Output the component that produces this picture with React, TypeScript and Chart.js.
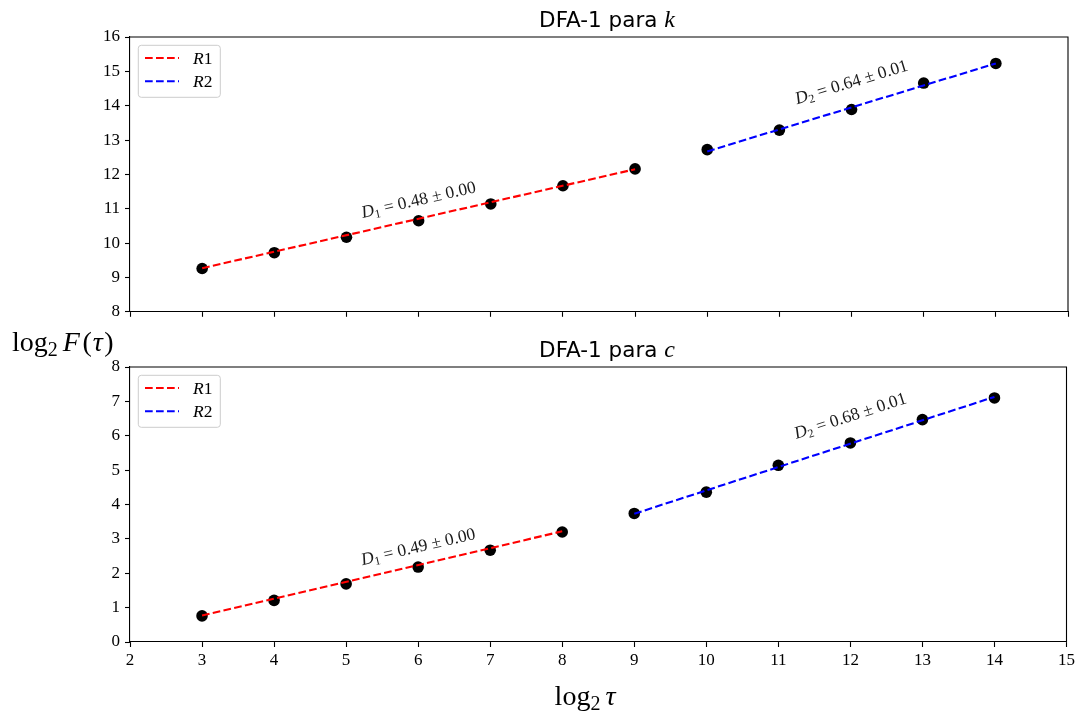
import React, { useEffect, useRef } from 'react';
import { Chart, registerables } from 'chart.js';

Chart.register(...registerables);

// ---------- data ----------
const tauValues = [3, 4, 5, 6, 7, 8, 9, 10, 11, 12, 13, 14];
const kValues = [9.26, 9.72, 10.17, 10.65, 11.14, 11.67, 12.16, 12.72, 13.29, 13.89, 14.66, 15.23];
const cValues = [0.76, 1.21, 1.69, 2.18, 2.67, 3.2, 3.74, 4.36, 5.14, 5.79, 6.47, 7.1];

const kFitR1X = [3, 9];
const kFitR1Y = [9.27, 12.15];
const kFitR2X = [10, 14];
const kFitR2Y = [12.67, 15.23];

const cFitR1X = [3, 8];
const cFitR1Y = [0.77, 3.22];
const cFitR2X = [9, 14];
const cFitR2Y = [3.73, 7.13];

const xTickValues = [2, 3, 4, 5, 6, 7, 8, 9, 10, 11, 12, 13, 14, 15];
const kYRange = [8, 16];
const cYRange = [0, 8];
const xRange = [2, 15];

const legendLabels = ['R', 'R'];
const legendSubs = ['1', '2'];

const kSlopeTexts = [' = 0.48 \u00b1 0.00', ' = 0.64 \u00b1 0.01'];
const cSlopeTexts = [' = 0.49 \u00b1 0.00', ' = 0.68 \u00b1 0.01'];
const kSlopeAnchorX = [6, 12];
const kSlopeAnchorY = [11.25, 14.68];
const cSlopeAnchorX = [6, 12];
const cSlopeAnchorY = [2.76, 6.57];

const panelVars = ['k', 'c'];

// ---------- helpers ----------
const SERIF = '"Liberation Serif", "DejaVu Serif", serif';
const SANS = '"DejaVu Sans", "Noto Sans", sans-serif';

type Run = { t: string; font: string; dy?: number; gap?: number };

function drawRuns(ctx: CanvasRenderingContext2D, runs: Run[], x: number, y: number, align: 'left' | 'center') {
  const widths = runs.map((r) => {
    if (r.gap !== undefined) return r.gap;
    ctx.font = r.font;
    return ctx.measureText(r.t).width;
  });
  const total = widths.reduce((a, b) => a + b, 0);
  let cx = align === 'center' ? x - total / 2 : x;
  ctx.textAlign = 'left';
  ctx.textBaseline = 'alphabetic';
  runs.forEach((r, i) => {
    if (r.gap === undefined) {
      ctx.font = r.font;
      ctx.fillText(r.t, cx, y + (r.dy || 0));
    }
    cx += widths[i];
  });
}

type PanelSpec = {
  values: number[];
  r1x: number[];
  r1y: number[];
  r2x: number[];
  r2y: number[];
  yRange: number[];
  slopeTexts: string[];
  anchorX: number[];
  anchorY: number[];
  variable: string;
  showXLabels: boolean;
  padTop: number;
  xAxisHeight: number;
  bottomPanel: boolean;
};

function makeChart(canvas: HTMLCanvasElement, p: PanelSpec) {
  const pts = (xs: number[], ys: number[]) => xs.map((x, i) => ({ x, y: ys[i] }));

  const decor = {
    id: 'decor',
    afterDraw(chart: any) {
      const ctx: CanvasRenderingContext2D = chart.ctx;
      const area = chart.chartArea;
      const xs = chart.scales.x;
      const ys = chart.scales.y;
      ctx.save();

      // top and right spines
      ctx.strokeStyle = '#000';
      ctx.lineWidth = 1.1;
      ctx.setLineDash([]);
      ctx.beginPath();
      ctx.moveTo(area.left, area.top);
      ctx.lineTo(area.right, area.top);
      ctx.lineTo(area.right, area.bottom);
      ctx.stroke();

      // title
      ctx.fillStyle = '#000';
      drawRuns(
        ctx,
        [
          { t: 'DFA-1 para ', font: `21.5px ${SANS}` },
          { t: p.variable, font: `italic 24px ${SERIF}` },
        ],
        607,
        area.top - 10.5,
        'center'
      );

      // slope annotations
      const fits = [
        [p.r1x, p.r1y],
        [p.r2x, p.r2y],
      ];
      p.slopeTexts.forEach((txt, i) => {
        const [fx, fy] = fits[i];
        const x0 = xs.getPixelForValue(fx[0]);
        const y0 = ys.getPixelForValue(fy[0]);
        const x1 = xs.getPixelForValue(fx[1]);
        const y1 = ys.getPixelForValue(fy[1]);
        const ang = Math.atan2(y0 - y1, x1 - x0);
        const px = xs.getPixelForValue(p.anchorX[i]);
        const py = ys.getPixelForValue(p.anchorY[i]);
        ctx.save();
        ctx.translate(px, py);
        ctx.rotate(-ang);
        ctx.fillStyle = '#1a1a1a';
        drawRuns(
          ctx,
          [
            { t: 'D', font: `italic 17.5px ${SERIF}` },
            { t: String(i + 1), font: `12px ${SERIF}`, dy: 3 },
            { t: txt, font: `17.5px ${SERIF}` },
          ],
          0,
          5,
          'center'
        );
        ctx.restore();
      });

      // legend
      const lx = area.left + 8.3;
      const ly = area.top + 8.3;
      ctx.beginPath();
      (ctx as any).roundRect(lx, ly, 82, 52, 3);
      ctx.fillStyle = 'rgba(255,255,255,0.8)';
      ctx.fill();
      ctx.strokeStyle = '#cccccc';
      ctx.lineWidth = 1;
      ctx.stroke();
      const colors = ['#ff0000', '#0000ff'];
      const rowY = [area.top + 21, area.top + 44.3];
      legendLabels.forEach((lab, i) => {
        ctx.strokeStyle = colors[i];
        ctx.lineWidth = 2.1;
        ctx.setLineDash([7.7, 3.3]);
        ctx.beginPath();
        ctx.moveTo(area.left + 15, rowY[i]);
        ctx.lineTo(area.left + 49, rowY[i]);
        ctx.stroke();
        ctx.setLineDash([]);
        ctx.fillStyle = '#000';
        drawRuns(
          ctx,
          [
            { t: lab, font: `italic 17.5px ${SERIF}` },
            { t: legendSubs[i], font: `17.5px ${SERIF}` },
          ],
          area.left + 63,
          rowY[i] + 6,
          'left'
        );
      });

      if (p.bottomPanel) {
        ctx.fillStyle = '#000';
        // y-axis label (shared)
        drawRuns(
          ctx,
          [
            { t: 'log', font: `28px ${SERIF}` },
            { t: '2', font: `20px ${SERIF}`, dy: 5 },
            { t: '', font: '', gap: 5 },
            { t: 'F', font: `italic 28px ${SERIF}` },
            { t: '', font: '', gap: 2.5 },
            { t: '(', font: `28px ${SERIF}` },
            { t: '', font: '', gap: 1 },
            { t: '\u03c4', font: `italic 28px ${SERIF}` },
            { t: '', font: '', gap: 1.5 },
            { t: ')', font: `28px ${SERIF}` },
          ],
          12,
          26,
          'left'
        );
        // x-axis label
        drawRuns(
          ctx,
          [
            { t: 'log', font: `28px ${SERIF}` },
            { t: '2', font: `20px ${SERIF}`, dy: 5 },
            { t: '', font: '', gap: 5 },
            { t: '\u03c4', font: `italic 28px ${SERIF}` },
          ],
          585,
          chart.height - 12,
          'center'
        );
      }
      ctx.restore();
    },
  };

  const tickFont = { family: SERIF, size: 17 };
  const gridOpts = {
    display: true,
    drawOnChartArea: false,
    drawTicks: true,
    tickLength: 5,
    tickWidth: 1.1,
    tickColor: '#000',
    color: '#000',
  };

  return new Chart(canvas, {
    type: 'scatter',
    data: {
      datasets: [
        {
          label: 'R1',
          data: pts(p.r1x, p.r1y),
          showLine: true,
          borderColor: '#ff0000',
          borderWidth: 2.1,
          borderDash: [7.7, 3.3],
          pointRadius: 0,
          fill: false,
        },
        {
          label: 'R2',
          data: pts(p.r2x, p.r2y),
          showLine: true,
          borderColor: '#0000ff',
          borderWidth: 2.1,
          borderDash: [7.7, 3.3],
          pointRadius: 0,
          fill: false,
        },
        {
          label: 'data',
          data: pts(tauValues, p.values),
          backgroundColor: '#000',
          borderColor: '#000',
          borderWidth: 0,
          pointRadius: 5.8,
        },
      ],
    },
    options: {
      animation: false,
      responsive: false,
      devicePixelRatio: 1,
      events: [],
      layout: { padding: { left: 0, right: 10, top: p.padTop, bottom: 0 } },
      plugins: {
        legend: { display: false },
        tooltip: { enabled: false },
        title: { display: false },
      },
      scales: {
        x: {
          type: 'linear',
          min: xRange[0],
          max: xRange[1],
          afterBuildTicks: (s: any) => {
            s.ticks = xTickValues.map((v) => ({ value: v }));
          },
          ticks: {
            display: p.showXLabels,
            color: '#000',
            font: tickFont,
            padding: 3,
            maxRotation: 0,
            autoSkip: false,
          },
          grid: gridOpts,
          border: { display: true, color: '#000', width: 1.1 },
          afterFit: (s: any) => {
            s.height = p.xAxisHeight;
          },
        },
        y: {
          type: 'linear',
          min: p.yRange[0],
          max: p.yRange[1],
          ticks: { stepSize: 1, color: '#000', font: tickFont, padding: 5 },
          grid: gridOpts,
          border: { display: true, color: '#000', width: 1.1 },
          afterFit: (s: any) => {
            s.width = 130;
          },
        },
      },
    } as any,
    plugins: [decor],
  });
}

export default function App() {
  const topRef = useRef<HTMLCanvasElement>(null);
  const botRef = useRef<HTMLCanvasElement>(null);

  useEffect(() => {
    const c1 = makeChart(topRef.current!, {
      values: kValues,
      r1x: kFitR1X,
      r1y: kFitR1Y,
      r2x: kFitR2X,
      r2y: kFitR2Y,
      yRange: kYRange,
      slopeTexts: kSlopeTexts,
      anchorX: kSlopeAnchorX,
      anchorY: kSlopeAnchorY,
      variable: panelVars[0],
      showXLabels: false,
      padTop: 37,
      xAxisHeight: 13,
      bottomPanel: false,
    });
    const c2 = makeChart(botRef.current!, {
      values: cValues,
      r1x: cFitR1X,
      r1y: cFitR1Y,
      r2x: cFitR2X,
      r2y: cFitR2Y,
      yRange: cYRange,
      slopeTexts: cSlopeTexts,
      anchorX: cSlopeAnchorX,
      anchorY: cSlopeAnchorY,
      variable: panelVars[1],
      showXLabels: true,
      padTop: 42,
      xAxisHeight: 75,
      bottomPanel: true,
    });
    return () => {
      c1.destroy();
      c2.destroy();
    };
  }, []);

  return (
    <div style={{ position: 'absolute', left: 0, top: 0, width: 1078, height: 717, background: '#fff' }}>
      <canvas
        ref={topRef}
        width={1078}
        height={327}
        style={{ position: 'absolute', left: 0, top: 0, width: 1078, height: 327 }}
      />
      <canvas
        ref={botRef}
        width={1078}
        height={392}
        style={{ position: 'absolute', left: 0, top: 325, width: 1078, height: 392 }}
      />
    </div>
  );
}
